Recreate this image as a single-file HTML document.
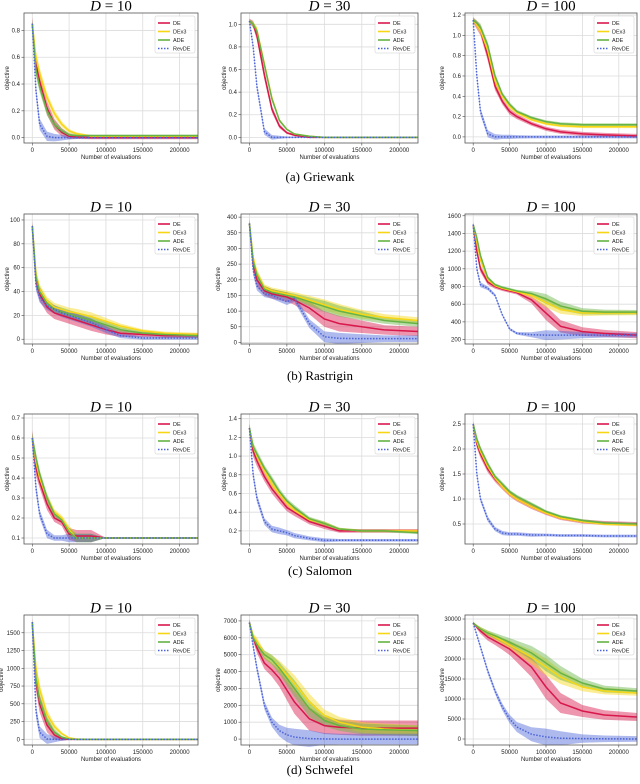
<!DOCTYPE html>
<html><head><meta charset="utf-8"><style>
html,body{margin:0;padding:0;background:#fff;}
svg{display:block;}
text{font-family:"Liberation Sans",sans-serif;}
.ttl{font-family:"Liberation Serif",serif;font-size:15px;}
.cap{font-family:"Liberation Serif",serif;font-size:13px;}
</style></head><body>
<svg id="fig" width="640" height="784" viewBox="0 0 640 784" xmlns="http://www.w3.org/2000/svg"></svg>
<script>
const xs = [0,5000,10000,20000,30000,40000,50000,60000,80000,100000,120000,150000,180000,225000];
const xTicks = [0,50000,100000,150000,200000];
const seriesNames = ["DE","DEx3","ADE","RevDE"];
const seriesColors = ["#d8174b","#f7d616","#66b345","#4b64d8"];
const dims = ["10","30","100"];
const captions = ["(a) Griewank","(b) Rastrigin","(c) Salomon","(d) Schwefel"];

// Griewank
const g10DE=[0.85,0.55,0.42,0.22,0.1,0.04,0.01,0.005,0,0,0,0,0,0];
const g10DEx3=[0.85,0.6,0.48,0.3,0.18,0.1,0.05,0.03,0.01,0.01,0.01,0.01,0.01,0.01];
const g10ADE=[0.85,0.5,0.38,0.2,0.1,0.05,0.02,0.015,0.015,0.015,0.015,0.015,0.015,0.015];
const g10Rev=[0.85,0.35,0.1,0.01,0,0,0,0,0,0,0,0,0,0];
const g10Band=[0.05,0.06,0.06,0.05,0.04,0.03,0.02,0.015,0.012,0.012,0.012,0.012,0.012,0.012];
const g30DE=[1.03,1.0,0.9,0.55,0.25,0.1,0.04,0.02,0,0,0,0,0,0];
const g30DEx3=[1.03,1.0,0.95,0.65,0.35,0.15,0.07,0.03,0.01,0,0,0,0,0];
const g30ADE=[1.03,1.0,0.94,0.64,0.34,0.15,0.07,0.03,0.01,0,0,0,0,0];
const g30Rev=[1.03,0.8,0.45,0.05,0,0,0,0,0,0,0,0,0,0];
const g30Band=[0.02,0.03,0.04,0.04,0.03,0.02,0.01,0.01,0.005,0,0,0,0,0];
const g100DE=[1.15,1.1,1.05,0.8,0.5,0.35,0.25,0.2,0.13,0.08,0.05,0.03,0.02,0.01];
const g100DEx3=[1.15,1.1,1.05,0.85,0.55,0.4,0.3,0.24,0.17,0.13,0.11,0.1,0.1,0.1];
const g100ADE=[1.15,1.12,1.08,0.9,0.6,0.42,0.32,0.25,0.19,0.15,0.13,0.12,0.12,0.12];
const g100Rev=[1.15,0.6,0.25,0.03,0,0,0,0,0,0,0,0,0,0];
const g100Band=[0.03,0.04,0.05,0.05,0.04,0.03,0.03,0.025,0.02,0.02,0.02,0.02,0.02,0.02];
// Rastrigin
const r10DE=[95,50,38,27,22,20,18,16,12,8,5,4,3,3];
const r10DEx3=[95,55,42,32,27,25,23,22,19,15,11,7,5,4];
const r10ADE=[95,52,40,30,25,23,21,19,16,12,8,5,4,3];
const r10Rev=[95,45,35,28,25,22,20,18,14,8,3,1,1,1];
const r10Band=[4,6,6,5,5,5,5,5,5,4,3,2,2,2];
const r30DE=[380,250,200,165,155,150,145,135,110,75,60,50,40,35];
const r30DEx3=[380,270,220,175,165,160,155,150,135,120,105,90,80,70];
const r30ADE=[380,260,215,170,160,155,150,145,130,115,100,85,70,60];
const r30Rev=[380,230,180,155,150,140,130,140,60,18,13,12,12,12];
const r30Band=[15,20,20,15,15,15,15,15,20,25,25,20,15,15];
const r100DE=[1500,1200,1000,850,800,770,750,730,650,500,350,290,270,250];
const r100DEx3=[1500,1300,1100,880,810,780,760,740,700,620,540,500,500,500];
const r100ADE=[1500,1350,1150,900,820,790,770,750,720,660,580,520,510,510];
const r100Rev=[1500,1000,820,780,700,480,320,270,255,250,250,250,250,250];
const r100Band=[30,40,40,30,25,20,20,20,40,80,70,50,40,35];
// Salomon
const s10DE=[0.6,0.45,0.38,0.27,0.2,0.18,0.12,0.11,0.11,0.1,0.1,0.1,0.1,0.1];
const s10DEx3=[0.6,0.48,0.4,0.3,0.23,0.2,0.14,0.1,0.1,0.1,0.1,0.1,0.1,0.1];
const s10ADE=[0.6,0.5,0.42,0.3,0.22,0.19,0.13,0.1,0.1,0.1,0.1,0.1,0.1,0.1];
const s10Rev=[0.6,0.35,0.22,0.12,0.1,0.1,0.1,0.1,0.1,0.1,0.1,0.1,0.1,0.1];
const s10Band=[0.04,0.04,0.03,0.03,0.02,0.02,0.03,0.03,0.03,0,0,0,0,0];
const s30DE=[1.3,1.05,0.95,0.78,0.65,0.55,0.45,0.4,0.3,0.25,0.2,0.2,0.2,0.2];
const s30DEx3=[1.3,1.1,1.0,0.85,0.7,0.6,0.5,0.42,0.32,0.28,0.22,0.2,0.2,0.2];
const s30ADE=[1.3,1.1,1.02,0.87,0.75,0.62,0.52,0.45,0.33,0.28,0.22,0.2,0.2,0.18];
const s30Rev=[1.3,0.8,0.55,0.3,0.22,0.2,0.18,0.15,0.12,0.1,0.1,0.1,0.1,0.1];
const s30Band=[0.05,0.06,0.06,0.05,0.05,0.05,0.04,0.04,0.03,0.03,0.02,0.02,0.02,0.02];
const s100DE=[2.5,2.1,1.9,1.6,1.4,1.25,1.1,1.0,0.85,0.72,0.62,0.55,0.52,0.5];
const s100DEx3=[2.5,2.15,1.95,1.65,1.42,1.25,1.1,1.0,0.85,0.72,0.62,0.55,0.5,0.48];
const s100ADE=[2.5,2.2,2.0,1.7,1.45,1.3,1.15,1.05,0.9,0.75,0.65,0.57,0.52,0.5];
const s100Rev=[2.5,1.5,1.0,0.6,0.4,0.32,0.3,0.3,0.28,0.28,0.27,0.27,0.26,0.26];
const s100Band=[0.06,0.08,0.08,0.07,0.06,0.06,0.05,0.05,0.05,0.04,0.04,0.04,0.04,0.04];
// Schwefel
const w10DE=[1650,800,500,200,60,10,0,0,0,0,0,0,0,0];
const w10DEx3=[1650,1000,700,350,180,80,20,5,0,0,0,0,0,0];
const w10ADE=[1650,850,550,250,100,30,5,0,0,0,0,0,0,0];
const w10Rev=[1650,400,100,5,0,0,0,0,0,0,0,0,0,0];
const w10Band=[60,120,120,100,60,30,10,5,0,0,0,0,0,0];
const w30DE=[6900,6000,5400,4500,4100,3600,2900,2200,1200,800,700,650,650,650];
const w30DEx3=[6900,6100,5800,5000,4700,4300,3800,3300,2200,1400,1000,700,600,500];
const w30ADE=[6900,6000,5600,5000,4700,4200,3600,3000,1800,1100,800,600,550,500];
const w30Rev=[6900,5500,4200,2000,1000,500,250,120,30,10,0,0,0,0];
const w30Band=[200,250,300,350,400,500,600,700,700,500,450,450,450,450];
const w100DE=[29000,28000,27000,25500,24500,23500,22500,21000,18000,13000,9000,7000,6000,5500];
const w100DEx3=[29000,28200,27500,26500,25500,24500,23500,22500,20500,18000,15500,13000,12000,11500];
const w100ADE=[29000,28200,27500,26500,25800,25000,24200,23300,21500,19000,16500,14000,12500,12000];
const w100Rev=[29000,26000,23000,17000,12000,8000,5000,3000,1200,500,200,100,50,0];
const w100Band=[300,500,700,900,1000,1200,1500,1800,2500,3000,2500,1500,1200,1000];

const yTicksList=[
 [0,0.2,0.4,0.6,0.8],[0,0.2,0.4,0.6,0.8,1.0],[0,0.2,0.4,0.6,0.8,1.0,1.2],
 [0,20,40,60,80,100],[0,50,100,150,200,250,300,350,400],[200,400,600,800,1000,1200,1400,1600],
 [0.1,0.2,0.3,0.4,0.5,0.6,0.7],[0.2,0.4,0.6,0.8,1.0,1.2,1.4],[0.5,1.0,1.5,2.0,2.5],
 [0,250,500,750,1000,1250,1500],[0,1000,2000,3000,4000,5000,6000,7000],[0,5000,10000,15000,20000,25000,30000]];
const yLims=[[-0.04,0.93],[-0.05,1.1],[-0.06,1.22],[-4,105],[-5,410],[150,1620],
 [0.07,0.72],[0.06,1.45],[0.1,2.7],[-80,1750],[-350,7350],[-1500,31000]];
const fmt=[v=>v.toFixed(1),v=>v.toFixed(1),v=>v.toFixed(1),v=>String(v),v=>String(v),v=>String(v),
 v=>v.toFixed(1),v=>v.toFixed(1),v=>v.toFixed(1),v=>String(v),v=>String(v),v=>String(v)];
const panelData=[
 [g10DE,g10DEx3,g10ADE,g10Rev,g10Band],[g30DE,g30DEx3,g30ADE,g30Rev,g30Band],[g100DE,g100DEx3,g100ADE,g100Rev,g100Band],
 [r10DE,r10DEx3,r10ADE,r10Rev,r10Band],[r30DE,r30DEx3,r30ADE,r30Rev,r30Band],[r100DE,r100DEx3,r100ADE,r100Rev,r100Band],
 [s10DE,s10DEx3,s10ADE,s10Rev,s10Band],[s30DE,s30DEx3,s30ADE,s30Rev,s30Band],[s100DE,s100DEx3,s100ADE,s100Rev,s100Band],
 [w10DE,w10DEx3,w10ADE,w10Rev,w10Band],[w30DE,w30DEx3,w30ADE,w30Rev,w30Band],[w100DE,w100DEx3,w100ADE,w100Rev,w100Band]];

const NS="http://www.w3.org/2000/svg";
const svg=document.getElementById('fig');
function mk(tag,attrs,parent){const e=document.createElementNS(NS,tag);for(const k in attrs)e.setAttribute(k,attrs[k]);(parent||svg).appendChild(e);return e;}
const colL=[24,241,465], colR=[198,418,637], rowT=[13,214,414,615], H=130;
const capY=[181,380,575,774];

for(let r=0;r<4;r++){
 const c0=mk('text',{x:320,y:capY[r],'text-anchor':'middle','class':'cap'});
 c0.textContent=captions[r];
 
 
 for(let c=0;c<3;c++){
  const p=r*3+c, L=colL[c], R=colR[c], T=rowT[r], B=T+H;
  const g=mk('g',{});
  
  
  const [y0,y1]=yLims[p];
  const sx=v=>L+(v+11250)/(236250)*(R-L);
  const sy=v=>B-(v-y0)/(y1-y0)*H;
  const t=mk('text',{x:(L+R)/2,y:T-2.5,'text-anchor':'middle','class':'ttl'},g);
  t.innerHTML='<tspan font-style="italic">D</tspan> = '+dims[c];
  
  
  xTicks.forEach(v=>{
   mk('line',{x1:sx(v),x2:sx(v),y1:T,y2:B,stroke:'#dcdcdc','stroke-width':0.8},g);
   mk('line',{x1:sx(v),x2:sx(v),y1:B,y2:B+2.5,stroke:'#444','stroke-width':0.6},g);
   const tl=mk('text',{x:sx(v),y:B+9,'text-anchor':'middle','font-size':6,fill:'#222'},g);
   tl.textContent=String(v);
   
   
  });
  yTicksList[p].forEach(v=>{
   mk('line',{x1:L,x2:R,y1:sy(v),y2:sy(v),stroke:'#dcdcdc','stroke-width':0.8},g);
   mk('line',{x1:L-2.5,x2:L,y1:sy(v),y2:sy(v),stroke:'#444','stroke-width':0.6},g);
   const tl=mk('text',{x:L-4,y:sy(v)+2,'text-anchor':'end','font-size':6,fill:'#222'},g);
   tl.textContent=fmt[p](v);
   
   
  });
  const d=panelData[p], band=d[4];
  for(let s=0;s<4;s++){
   const vals=d[s], f=s===0?1:0.7;
   let up=xs.map((x,i)=>sx(x)+','+sy(vals[i]+band[i]*f));
   let lo=xs.map((x,i)=>sx(x)+','+sy(vals[i]-band[i]*f)).reverse();
   const poly=mk('polygon',{points:up.concat(lo).join(' '),fill:seriesColors[s],'fill-opacity':0.45,stroke:'none'},g);
   
   
  }
  for(let s=0;s<4;s++){
   const vals=d[s];
   const ln=mk('polyline',{points:xs.map((x,i)=>sx(x)+','+sy(vals[i])).join(' '),fill:'none',stroke:seriesColors[s],'stroke-width':1.5,'stroke-dasharray':s===3?'1.5,1.5':'none'},g);
   
   
  }
  mk('rect',{x:L,y:T,width:R-L,height:H,fill:'none',stroke:'#555','stroke-width':0.8},g);
  const xl=mk('text',{x:(L+R)/2,y:B+16,'text-anchor':'middle','font-size':6,fill:'#222'},g);
  xl.textContent='Number of evaluations';
  
  
  const yx=L-(c===0?(p>=9?19:13):(p===1||p===7?13:19))-2;
  const yl=mk('text',{x:yx,y:(T+B)/2,'text-anchor':'middle','font-size':6,fill:'#222',transform:'rotate(-90 '+yx+' '+((T+B)/2)+')'},g);
  yl.textContent='objective';
  
  
  const lg=mk('g',{},g);
  
  
  mk('rect',{x:R-43,y:T+3,width:40,height:37,fill:'#fff','fill-opacity':0.85,stroke:'#ccc','stroke-width':0.5,rx:1.5},lg);
  for(let s=0;s<4;s++){
   const yy=T+10+s*8.5;
   mk('line',{x1:R-40,x2:R-28,y1:yy,y2:yy,stroke:seriesColors[s],'stroke-width':1.6,'stroke-dasharray':s===3?'1.5,1.5':'none'},lg);
   const lt=mk('text',{x:R-25,y:yy+2,'font-size':5.5,fill:'#222'},lg);
   lt.textContent=seriesNames[s];
   
   
  }
 }
}
</script>
</body></html>
